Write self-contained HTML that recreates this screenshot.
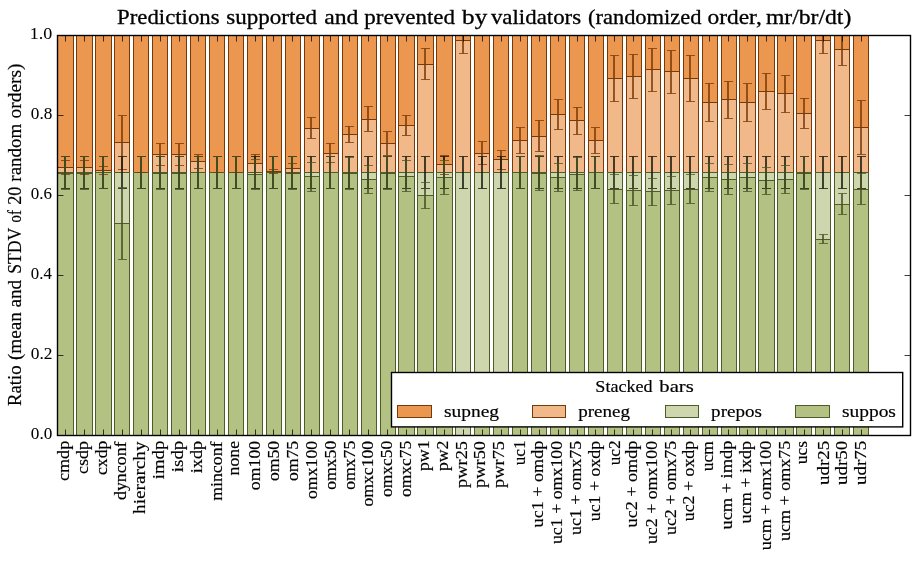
<!DOCTYPE html>
<html lang="en"><head><meta charset="utf-8"><title>Predictions supported and prevented by validators</title>
<style>html,body{margin:0;padding:0;background:#fff;overflow:hidden;}svg{display:block;}text{font-family:"Liberation Serif","DejaVu Serif",serif;fill:#000;stroke:#000;stroke-width:0.18px;}.t{stroke-width:0.3px}.n{stroke-width:0.05px}</style></head><body>
<svg width="919" height="562" viewBox="0 0 919 562">
<rect width="919" height="562" fill="#fff"/>
<defs><clipPath id="ax"><rect x="57.5" y="35.5" width="853" height="400"/></clipPath></defs>
<g clip-path="url(#ax)">
<rect x="57.5" y="35.5" width="16" height="132" fill="#EC9750" stroke="#753A0A" stroke-width="1.0"/>
<rect x="76.5" y="35.5" width="16" height="132" fill="#EC9750" stroke="#753A0A" stroke-width="1.0"/>
<rect x="95.5" y="35.5" width="16" height="135" fill="#EC9750" stroke="#753A0A" stroke-width="1.0"/>
<rect x="114.5" y="35.5" width="15" height="107" fill="#EC9750" stroke="#753A0A" stroke-width="1.0"/>
<rect x="133.5" y="35.5" width="15" height="137" fill="#EC9750" stroke="#753A0A" stroke-width="1.0"/>
<rect x="152.5" y="35.5" width="15" height="119" fill="#EC9750" stroke="#753A0A" stroke-width="1.0"/>
<rect x="171.5" y="35.5" width="15" height="119" fill="#EC9750" stroke="#753A0A" stroke-width="1.0"/>
<rect x="190.5" y="35.5" width="15" height="126" fill="#EC9750" stroke="#753A0A" stroke-width="1.0"/>
<rect x="209.5" y="35.5" width="15" height="137" fill="#EC9750" stroke="#753A0A" stroke-width="1.0"/>
<rect x="228.5" y="35.5" width="15" height="137" fill="#EC9750" stroke="#753A0A" stroke-width="1.0"/>
<rect x="247.5" y="35.5" width="15" height="128" fill="#EC9750" stroke="#753A0A" stroke-width="1.0"/>
<rect x="266.5" y="35.5" width="15" height="136" fill="#EC9750" stroke="#753A0A" stroke-width="1.0"/>
<rect x="285.5" y="35.5" width="15" height="133" fill="#EC9750" stroke="#753A0A" stroke-width="1.0"/>
<rect x="304.5" y="35.5" width="15" height="93" fill="#EC9750" stroke="#753A0A" stroke-width="1.0"/>
<rect x="323.5" y="35.5" width="15" height="118" fill="#EC9750" stroke="#753A0A" stroke-width="1.0"/>
<rect x="342.5" y="35.5" width="15" height="99" fill="#EC9750" stroke="#753A0A" stroke-width="1.0"/>
<rect x="361.5" y="35.5" width="15" height="84" fill="#EC9750" stroke="#753A0A" stroke-width="1.0"/>
<rect x="380.5" y="35.5" width="15" height="108" fill="#EC9750" stroke="#753A0A" stroke-width="1.0"/>
<rect x="398.5" y="35.5" width="16" height="90" fill="#EC9750" stroke="#753A0A" stroke-width="1.0"/>
<rect x="417.5" y="35.5" width="16" height="29" fill="#EC9750" stroke="#753A0A" stroke-width="1.0"/>
<rect x="436.5" y="35.5" width="16" height="129" fill="#EC9750" stroke="#753A0A" stroke-width="1.0"/>
<rect x="455.5" y="35.5" width="15" height="5" fill="#EC9750" stroke="#753A0A" stroke-width="1.0"/>
<rect x="474.5" y="35.5" width="15" height="118" fill="#EC9750" stroke="#753A0A" stroke-width="1.0"/>
<rect x="493.5" y="35.5" width="15" height="124" fill="#EC9750" stroke="#753A0A" stroke-width="1.0"/>
<rect x="512.5" y="35.5" width="15" height="105" fill="#EC9750" stroke="#753A0A" stroke-width="1.0"/>
<rect x="531.5" y="35.5" width="15" height="101" fill="#EC9750" stroke="#753A0A" stroke-width="1.0"/>
<rect x="550.5" y="35.5" width="15" height="79" fill="#EC9750" stroke="#753A0A" stroke-width="1.0"/>
<rect x="569.5" y="35.5" width="15" height="85" fill="#EC9750" stroke="#753A0A" stroke-width="1.0"/>
<rect x="588.5" y="35.5" width="15" height="105" fill="#EC9750" stroke="#753A0A" stroke-width="1.0"/>
<rect x="607.5" y="35.5" width="15" height="43" fill="#EC9750" stroke="#753A0A" stroke-width="1.0"/>
<rect x="626.5" y="35.5" width="15" height="41" fill="#EC9750" stroke="#753A0A" stroke-width="1.0"/>
<rect x="645.5" y="35.5" width="15" height="34" fill="#EC9750" stroke="#753A0A" stroke-width="1.0"/>
<rect x="664.5" y="35.5" width="15" height="36" fill="#EC9750" stroke="#753A0A" stroke-width="1.0"/>
<rect x="683.5" y="35.5" width="15" height="43" fill="#EC9750" stroke="#753A0A" stroke-width="1.0"/>
<rect x="702.5" y="35.5" width="15" height="67" fill="#EC9750" stroke="#753A0A" stroke-width="1.0"/>
<rect x="721.5" y="35.5" width="15" height="64" fill="#EC9750" stroke="#753A0A" stroke-width="1.0"/>
<rect x="739.5" y="35.5" width="16" height="67" fill="#EC9750" stroke="#753A0A" stroke-width="1.0"/>
<rect x="758.5" y="35.5" width="16" height="56" fill="#EC9750" stroke="#753A0A" stroke-width="1.0"/>
<rect x="777.5" y="35.5" width="16" height="58" fill="#EC9750" stroke="#753A0A" stroke-width="1.0"/>
<rect x="796.5" y="35.5" width="15" height="78" fill="#EC9750" stroke="#753A0A" stroke-width="1.0"/>
<rect x="815.5" y="35.5" width="15" height="5" fill="#EC9750" stroke="#753A0A" stroke-width="1.0"/>
<rect x="834.5" y="35.5" width="15" height="14" fill="#EC9750" stroke="#753A0A" stroke-width="1.0"/>
<rect x="853.5" y="35.5" width="15" height="92" fill="#EC9750" stroke="#753A0A" stroke-width="1.0"/>
<rect x="57.5" y="167.5" width="16" height="5" fill="#F1B989" stroke="#753A0A" stroke-width="1.0"/>
<rect x="76.5" y="167.5" width="16" height="5" fill="#F1B989" stroke="#753A0A" stroke-width="1.0"/>
<rect x="95.5" y="170.5" width="16" height="2" fill="#F1B989" stroke="#753A0A" stroke-width="1.0"/>
<rect x="114.5" y="142.5" width="15" height="30" fill="#F1B989" stroke="#753A0A" stroke-width="1.0"/>
<rect x="152.5" y="154.5" width="15" height="18" fill="#F1B989" stroke="#753A0A" stroke-width="1.0"/>
<rect x="171.5" y="154.5" width="15" height="18" fill="#F1B989" stroke="#753A0A" stroke-width="1.0"/>
<rect x="190.5" y="161.5" width="15" height="11" fill="#F1B989" stroke="#753A0A" stroke-width="1.0"/>
<rect x="247.5" y="163.5" width="15" height="9" fill="#F1B989" stroke="#753A0A" stroke-width="1.0"/>
<rect x="266.5" y="171.5" width="15" height="1" fill="#F1B989" stroke="#753A0A" stroke-width="1.0"/>
<rect x="285.5" y="168.5" width="15" height="4" fill="#F1B989" stroke="#753A0A" stroke-width="1.0"/>
<rect x="304.5" y="128.5" width="15" height="44" fill="#F1B989" stroke="#753A0A" stroke-width="1.0"/>
<rect x="323.5" y="153.5" width="15" height="19" fill="#F1B989" stroke="#753A0A" stroke-width="1.0"/>
<rect x="342.5" y="134.5" width="15" height="38" fill="#F1B989" stroke="#753A0A" stroke-width="1.0"/>
<rect x="361.5" y="119.5" width="15" height="53" fill="#F1B989" stroke="#753A0A" stroke-width="1.0"/>
<rect x="380.5" y="143.5" width="15" height="29" fill="#F1B989" stroke="#753A0A" stroke-width="1.0"/>
<rect x="398.5" y="125.5" width="16" height="47" fill="#F1B989" stroke="#753A0A" stroke-width="1.0"/>
<rect x="417.5" y="64.5" width="16" height="108" fill="#F1B989" stroke="#753A0A" stroke-width="1.0"/>
<rect x="436.5" y="164.5" width="16" height="8" fill="#F1B989" stroke="#753A0A" stroke-width="1.0"/>
<rect x="455.5" y="40.5" width="15" height="132" fill="#F1B989" stroke="#753A0A" stroke-width="1.0"/>
<rect x="474.5" y="153.5" width="15" height="19" fill="#F1B989" stroke="#753A0A" stroke-width="1.0"/>
<rect x="493.5" y="159.5" width="15" height="13" fill="#F1B989" stroke="#753A0A" stroke-width="1.0"/>
<rect x="512.5" y="140.5" width="15" height="32" fill="#F1B989" stroke="#753A0A" stroke-width="1.0"/>
<rect x="531.5" y="136.5" width="15" height="36" fill="#F1B989" stroke="#753A0A" stroke-width="1.0"/>
<rect x="550.5" y="114.5" width="15" height="58" fill="#F1B989" stroke="#753A0A" stroke-width="1.0"/>
<rect x="569.5" y="120.5" width="15" height="52" fill="#F1B989" stroke="#753A0A" stroke-width="1.0"/>
<rect x="588.5" y="140.5" width="15" height="32" fill="#F1B989" stroke="#753A0A" stroke-width="1.0"/>
<rect x="607.5" y="78.5" width="15" height="94" fill="#F1B989" stroke="#753A0A" stroke-width="1.0"/>
<rect x="626.5" y="76.5" width="15" height="96" fill="#F1B989" stroke="#753A0A" stroke-width="1.0"/>
<rect x="645.5" y="69.5" width="15" height="103" fill="#F1B989" stroke="#753A0A" stroke-width="1.0"/>
<rect x="664.5" y="71.5" width="15" height="101" fill="#F1B989" stroke="#753A0A" stroke-width="1.0"/>
<rect x="683.5" y="78.5" width="15" height="94" fill="#F1B989" stroke="#753A0A" stroke-width="1.0"/>
<rect x="702.5" y="102.5" width="15" height="70" fill="#F1B989" stroke="#753A0A" stroke-width="1.0"/>
<rect x="721.5" y="99.5" width="15" height="73" fill="#F1B989" stroke="#753A0A" stroke-width="1.0"/>
<rect x="739.5" y="102.5" width="16" height="70" fill="#F1B989" stroke="#753A0A" stroke-width="1.0"/>
<rect x="758.5" y="91.5" width="16" height="81" fill="#F1B989" stroke="#753A0A" stroke-width="1.0"/>
<rect x="777.5" y="93.5" width="16" height="79" fill="#F1B989" stroke="#753A0A" stroke-width="1.0"/>
<rect x="796.5" y="113.5" width="15" height="59" fill="#F1B989" stroke="#753A0A" stroke-width="1.0"/>
<rect x="815.5" y="40.5" width="15" height="132" fill="#F1B989" stroke="#753A0A" stroke-width="1.0"/>
<rect x="834.5" y="49.5" width="15" height="123" fill="#F1B989" stroke="#753A0A" stroke-width="1.0"/>
<rect x="853.5" y="127.5" width="15" height="45" fill="#F1B989" stroke="#753A0A" stroke-width="1.0"/>
<rect x="57.5" y="172.5" width="16" height="1" fill="#CED6AE" stroke="#4F5B28" stroke-width="1.0"/>
<rect x="76.5" y="172.5" width="16" height="1" fill="#CED6AE" stroke="#4F5B28" stroke-width="1.0"/>
<rect x="114.5" y="172.5" width="15" height="51" fill="#CED6AE" stroke="#4F5B28" stroke-width="1.0"/>
<rect x="152.5" y="172.5" width="15" height="1" fill="#CED6AE" stroke="#4F5B28" stroke-width="1.0"/>
<rect x="171.5" y="172.5" width="15" height="1" fill="#CED6AE" stroke="#4F5B28" stroke-width="1.0"/>
<rect x="247.5" y="172.5" width="15" height="2" fill="#CED6AE" stroke="#4F5B28" stroke-width="1.0"/>
<rect x="285.5" y="172.5" width="15" height="1" fill="#CED6AE" stroke="#4F5B28" stroke-width="1.0"/>
<rect x="304.5" y="172.5" width="15" height="4" fill="#CED6AE" stroke="#4F5B28" stroke-width="1.0"/>
<rect x="342.5" y="172.5" width="15" height="1" fill="#CED6AE" stroke="#4F5B28" stroke-width="1.0"/>
<rect x="361.5" y="172.5" width="15" height="7" fill="#CED6AE" stroke="#4F5B28" stroke-width="1.0"/>
<rect x="380.5" y="172.5" width="15" height="1" fill="#CED6AE" stroke="#4F5B28" stroke-width="1.0"/>
<rect x="398.5" y="172.5" width="16" height="4" fill="#CED6AE" stroke="#4F5B28" stroke-width="1.0"/>
<rect x="417.5" y="172.5" width="16" height="23" fill="#CED6AE" stroke="#4F5B28" stroke-width="1.0"/>
<rect x="436.5" y="172.5" width="16" height="5" fill="#CED6AE" stroke="#4F5B28" stroke-width="1.0"/>
<rect x="455.5" y="172.5" width="15" height="263" fill="#CED6AE" stroke="#4F5B28" stroke-width="1.0"/>
<rect x="474.5" y="172.5" width="15" height="228" fill="#CED6AE" stroke="#4F5B28" stroke-width="1.0"/>
<rect x="493.5" y="172.5" width="15" height="228" fill="#CED6AE" stroke="#4F5B28" stroke-width="1.0"/>
<rect x="531.5" y="172.5" width="15" height="1" fill="#CED6AE" stroke="#4F5B28" stroke-width="1.0"/>
<rect x="550.5" y="172.5" width="15" height="5" fill="#CED6AE" stroke="#4F5B28" stroke-width="1.0"/>
<rect x="569.5" y="172.5" width="15" height="2" fill="#CED6AE" stroke="#4F5B28" stroke-width="1.0"/>
<rect x="607.5" y="172.5" width="15" height="17" fill="#CED6AE" stroke="#4F5B28" stroke-width="1.0"/>
<rect x="626.5" y="172.5" width="15" height="18" fill="#CED6AE" stroke="#4F5B28" stroke-width="1.0"/>
<rect x="645.5" y="172.5" width="15" height="19" fill="#CED6AE" stroke="#4F5B28" stroke-width="1.0"/>
<rect x="664.5" y="172.5" width="15" height="18" fill="#CED6AE" stroke="#4F5B28" stroke-width="1.0"/>
<rect x="683.5" y="172.5" width="15" height="17" fill="#CED6AE" stroke="#4F5B28" stroke-width="1.0"/>
<rect x="702.5" y="172.5" width="15" height="5" fill="#CED6AE" stroke="#4F5B28" stroke-width="1.0"/>
<rect x="721.5" y="172.5" width="15" height="7" fill="#CED6AE" stroke="#4F5B28" stroke-width="1.0"/>
<rect x="739.5" y="172.5" width="16" height="5" fill="#CED6AE" stroke="#4F5B28" stroke-width="1.0"/>
<rect x="758.5" y="172.5" width="16" height="8" fill="#CED6AE" stroke="#4F5B28" stroke-width="1.0"/>
<rect x="777.5" y="172.5" width="16" height="7" fill="#CED6AE" stroke="#4F5B28" stroke-width="1.0"/>
<rect x="796.5" y="172.5" width="15" height="1" fill="#CED6AE" stroke="#4F5B28" stroke-width="1.0"/>
<rect x="815.5" y="172.5" width="15" height="67" fill="#CED6AE" stroke="#4F5B28" stroke-width="1.0"/>
<rect x="834.5" y="172.5" width="15" height="32" fill="#CED6AE" stroke="#4F5B28" stroke-width="1.0"/>
<rect x="853.5" y="172.5" width="15" height="17" fill="#CED6AE" stroke="#4F5B28" stroke-width="1.0"/>
<rect x="57.5" y="173.5" width="16" height="262" fill="#B3C282" stroke="#4F5B28" stroke-width="1.0"/>
<rect x="76.5" y="173.5" width="16" height="262" fill="#B3C282" stroke="#4F5B28" stroke-width="1.0"/>
<rect x="95.5" y="172.5" width="16" height="263" fill="#B3C282" stroke="#4F5B28" stroke-width="1.0"/>
<rect x="114.5" y="223.5" width="15" height="212" fill="#B3C282" stroke="#4F5B28" stroke-width="1.0"/>
<rect x="133.5" y="172.5" width="15" height="263" fill="#B3C282" stroke="#4F5B28" stroke-width="1.0"/>
<rect x="152.5" y="173.5" width="15" height="262" fill="#B3C282" stroke="#4F5B28" stroke-width="1.0"/>
<rect x="171.5" y="173.5" width="15" height="262" fill="#B3C282" stroke="#4F5B28" stroke-width="1.0"/>
<rect x="190.5" y="172.5" width="15" height="263" fill="#B3C282" stroke="#4F5B28" stroke-width="1.0"/>
<rect x="209.5" y="172.5" width="15" height="263" fill="#B3C282" stroke="#4F5B28" stroke-width="1.0"/>
<rect x="228.5" y="172.5" width="15" height="263" fill="#B3C282" stroke="#4F5B28" stroke-width="1.0"/>
<rect x="247.5" y="174.5" width="15" height="261" fill="#B3C282" stroke="#4F5B28" stroke-width="1.0"/>
<rect x="266.5" y="172.5" width="15" height="263" fill="#B3C282" stroke="#4F5B28" stroke-width="1.0"/>
<rect x="285.5" y="173.5" width="15" height="262" fill="#B3C282" stroke="#4F5B28" stroke-width="1.0"/>
<rect x="304.5" y="176.5" width="15" height="259" fill="#B3C282" stroke="#4F5B28" stroke-width="1.0"/>
<rect x="323.5" y="172.5" width="15" height="263" fill="#B3C282" stroke="#4F5B28" stroke-width="1.0"/>
<rect x="342.5" y="173.5" width="15" height="262" fill="#B3C282" stroke="#4F5B28" stroke-width="1.0"/>
<rect x="361.5" y="179.5" width="15" height="256" fill="#B3C282" stroke="#4F5B28" stroke-width="1.0"/>
<rect x="380.5" y="173.5" width="15" height="262" fill="#B3C282" stroke="#4F5B28" stroke-width="1.0"/>
<rect x="398.5" y="176.5" width="16" height="259" fill="#B3C282" stroke="#4F5B28" stroke-width="1.0"/>
<rect x="417.5" y="195.5" width="16" height="240" fill="#B3C282" stroke="#4F5B28" stroke-width="1.0"/>
<rect x="436.5" y="177.5" width="16" height="258" fill="#B3C282" stroke="#4F5B28" stroke-width="1.0"/>
<rect x="474.5" y="400.5" width="15" height="35" fill="#B3C282" stroke="#4F5B28" stroke-width="1.0"/>
<rect x="493.5" y="400.5" width="15" height="35" fill="#B3C282" stroke="#4F5B28" stroke-width="1.0"/>
<rect x="512.5" y="172.5" width="15" height="263" fill="#B3C282" stroke="#4F5B28" stroke-width="1.0"/>
<rect x="531.5" y="173.5" width="15" height="262" fill="#B3C282" stroke="#4F5B28" stroke-width="1.0"/>
<rect x="550.5" y="177.5" width="15" height="258" fill="#B3C282" stroke="#4F5B28" stroke-width="1.0"/>
<rect x="569.5" y="174.5" width="15" height="261" fill="#B3C282" stroke="#4F5B28" stroke-width="1.0"/>
<rect x="588.5" y="172.5" width="15" height="263" fill="#B3C282" stroke="#4F5B28" stroke-width="1.0"/>
<rect x="607.5" y="189.5" width="15" height="246" fill="#B3C282" stroke="#4F5B28" stroke-width="1.0"/>
<rect x="626.5" y="190.5" width="15" height="245" fill="#B3C282" stroke="#4F5B28" stroke-width="1.0"/>
<rect x="645.5" y="191.5" width="15" height="244" fill="#B3C282" stroke="#4F5B28" stroke-width="1.0"/>
<rect x="664.5" y="190.5" width="15" height="245" fill="#B3C282" stroke="#4F5B28" stroke-width="1.0"/>
<rect x="683.5" y="189.5" width="15" height="246" fill="#B3C282" stroke="#4F5B28" stroke-width="1.0"/>
<rect x="702.5" y="177.5" width="15" height="258" fill="#B3C282" stroke="#4F5B28" stroke-width="1.0"/>
<rect x="721.5" y="179.5" width="15" height="256" fill="#B3C282" stroke="#4F5B28" stroke-width="1.0"/>
<rect x="739.5" y="177.5" width="16" height="258" fill="#B3C282" stroke="#4F5B28" stroke-width="1.0"/>
<rect x="758.5" y="180.5" width="16" height="255" fill="#B3C282" stroke="#4F5B28" stroke-width="1.0"/>
<rect x="777.5" y="179.5" width="16" height="256" fill="#B3C282" stroke="#4F5B28" stroke-width="1.0"/>
<rect x="796.5" y="173.5" width="15" height="262" fill="#B3C282" stroke="#4F5B28" stroke-width="1.0"/>
<rect x="815.5" y="239.5" width="15" height="196" fill="#B3C282" stroke="#4F5B28" stroke-width="1.0"/>
<rect x="834.5" y="204.5" width="15" height="231" fill="#B3C282" stroke="#4F5B28" stroke-width="1.0"/>
<rect x="853.5" y="189.5" width="15" height="246" fill="#B3C282" stroke="#4F5B28" stroke-width="1.0"/>
<path d="M65 160.5V174.5" stroke="#7C3C0A" stroke-width="1.6" fill="none" stroke-opacity="1.0"/>
<path d="M61 160.5H70M61 174.5H70" stroke="#7C3C0A" stroke-width="1" fill="none" stroke-opacity="0.8"/>
<path d="M84 160.5V174.5" stroke="#7C3C0A" stroke-width="1.6" fill="none" stroke-opacity="1.0"/>
<path d="M80 160.5H89M80 174.5H89" stroke="#7C3C0A" stroke-width="1" fill="none" stroke-opacity="0.8"/>
<path d="M103 166.5V174.5" stroke="#7C3C0A" stroke-width="1.6" fill="none" stroke-opacity="1.0"/>
<path d="M99 166.5H108M99 174.5H108" stroke="#7C3C0A" stroke-width="1" fill="none" stroke-opacity="0.8"/>
<path d="M122 115.5V169.5" stroke="#7C3C0A" stroke-width="1.6" fill="none" stroke-opacity="1.0"/>
<path d="M118 115.5H127M118 169.5H127" stroke="#7C3C0A" stroke-width="1" fill="none" stroke-opacity="0.8"/>
<path d="M141 172.5V172.5" stroke="#7C3C0A" stroke-width="1.6" fill="none" stroke-opacity="1.0"/>
<path d="M137 172.5H146M137 172.5H146" stroke="#7C3C0A" stroke-width="1" fill="none" stroke-opacity="0.8"/>
<path d="M160 143.5V165.5" stroke="#7C3C0A" stroke-width="1.6" fill="none" stroke-opacity="1.0"/>
<path d="M156 143.5H165M156 165.5H165" stroke="#7C3C0A" stroke-width="1" fill="none" stroke-opacity="0.8"/>
<path d="M179 143.5V165.5" stroke="#7C3C0A" stroke-width="1.6" fill="none" stroke-opacity="1.0"/>
<path d="M175 143.5H184M175 165.5H184" stroke="#7C3C0A" stroke-width="1" fill="none" stroke-opacity="0.8"/>
<path d="M198 154.5V168.5" stroke="#7C3C0A" stroke-width="1.6" fill="none" stroke-opacity="1.0"/>
<path d="M194 154.5H203M194 168.5H203" stroke="#7C3C0A" stroke-width="1" fill="none" stroke-opacity="0.8"/>
<path d="M217 172.5V172.5" stroke="#7C3C0A" stroke-width="1.6" fill="none" stroke-opacity="1.0"/>
<path d="M213 172.5H222M213 172.5H222" stroke="#7C3C0A" stroke-width="1" fill="none" stroke-opacity="0.8"/>
<path d="M236 172.5V172.5" stroke="#7C3C0A" stroke-width="1.6" fill="none" stroke-opacity="1.0"/>
<path d="M232 172.5H241M232 172.5H241" stroke="#7C3C0A" stroke-width="1" fill="none" stroke-opacity="0.8"/>
<path d="M255 154.5V172.5" stroke="#7C3C0A" stroke-width="1.6" fill="none" stroke-opacity="1.0"/>
<path d="M251 154.5H260M251 172.5H260" stroke="#7C3C0A" stroke-width="1" fill="none" stroke-opacity="0.8"/>
<path d="M273 169.5V173.5" stroke="#7C3C0A" stroke-width="1.6" fill="none" stroke-opacity="1.0"/>
<path d="M269 169.5H278M269 173.5H278" stroke="#7C3C0A" stroke-width="1" fill="none" stroke-opacity="0.8"/>
<path d="M292 163.5V173.5" stroke="#7C3C0A" stroke-width="1.6" fill="none" stroke-opacity="1.0"/>
<path d="M288 163.5H297M288 173.5H297" stroke="#7C3C0A" stroke-width="1" fill="none" stroke-opacity="0.8"/>
<path d="M311 117.5V138.5" stroke="#7C3C0A" stroke-width="1.6" fill="none" stroke-opacity="1.0"/>
<path d="M307 117.5H316M307 138.5H316" stroke="#7C3C0A" stroke-width="1" fill="none" stroke-opacity="0.8"/>
<path d="M330 143.5V162.5" stroke="#7C3C0A" stroke-width="1.6" fill="none" stroke-opacity="1.0"/>
<path d="M326 143.5H335M326 162.5H335" stroke="#7C3C0A" stroke-width="1" fill="none" stroke-opacity="0.8"/>
<path d="M349 126.5V142.5" stroke="#7C3C0A" stroke-width="1.6" fill="none" stroke-opacity="1.0"/>
<path d="M345 126.5H354M345 142.5H354" stroke="#7C3C0A" stroke-width="1" fill="none" stroke-opacity="0.8"/>
<path d="M368 106.5V131.5" stroke="#7C3C0A" stroke-width="1.6" fill="none" stroke-opacity="1.0"/>
<path d="M364 106.5H373M364 131.5H373" stroke="#7C3C0A" stroke-width="1" fill="none" stroke-opacity="0.8"/>
<path d="M387 131.5V155.5" stroke="#7C3C0A" stroke-width="1.6" fill="none" stroke-opacity="1.0"/>
<path d="M383 131.5H392M383 155.5H392" stroke="#7C3C0A" stroke-width="1" fill="none" stroke-opacity="0.8"/>
<path d="M406 115.5V135.5" stroke="#7C3C0A" stroke-width="1.6" fill="none" stroke-opacity="1.0"/>
<path d="M402 115.5H411M402 135.5H411" stroke="#7C3C0A" stroke-width="1" fill="none" stroke-opacity="0.8"/>
<path d="M425 48.5V79.5" stroke="#7C3C0A" stroke-width="1.6" fill="none" stroke-opacity="1.0"/>
<path d="M421 48.5H430M421 79.5H430" stroke="#7C3C0A" stroke-width="1" fill="none" stroke-opacity="0.8"/>
<path d="M444 155.5V174.5" stroke="#7C3C0A" stroke-width="1.6" fill="none" stroke-opacity="1.0"/>
<path d="M440 155.5H449M440 174.5H449" stroke="#7C3C0A" stroke-width="1" fill="none" stroke-opacity="0.8"/>
<path d="M463 27.5V53.5" stroke="#7C3C0A" stroke-width="1.6" fill="none" stroke-opacity="1.0"/>
<path d="M459 27.5H468M459 53.5H468" stroke="#7C3C0A" stroke-width="1" fill="none" stroke-opacity="0.8"/>
<path d="M482 141.5V164.5" stroke="#7C3C0A" stroke-width="1.6" fill="none" stroke-opacity="1.0"/>
<path d="M478 141.5H487M478 164.5H487" stroke="#7C3C0A" stroke-width="1" fill="none" stroke-opacity="0.8"/>
<path d="M501 150.5V169.5" stroke="#7C3C0A" stroke-width="1.6" fill="none" stroke-opacity="1.0"/>
<path d="M497 150.5H506M497 169.5H506" stroke="#7C3C0A" stroke-width="1" fill="none" stroke-opacity="0.8"/>
<path d="M520 127.5V153.5" stroke="#7C3C0A" stroke-width="1.6" fill="none" stroke-opacity="1.0"/>
<path d="M516 127.5H525M516 153.5H525" stroke="#7C3C0A" stroke-width="1" fill="none" stroke-opacity="0.8"/>
<path d="M539 120.5V151.5" stroke="#7C3C0A" stroke-width="1.6" fill="none" stroke-opacity="1.0"/>
<path d="M535 120.5H544M535 151.5H544" stroke="#7C3C0A" stroke-width="1" fill="none" stroke-opacity="0.8"/>
<path d="M558 99.5V129.5" stroke="#7C3C0A" stroke-width="1.6" fill="none" stroke-opacity="1.0"/>
<path d="M554 99.5H563M554 129.5H563" stroke="#7C3C0A" stroke-width="1" fill="none" stroke-opacity="0.8"/>
<path d="M577 107.5V134.5" stroke="#7C3C0A" stroke-width="1.6" fill="none" stroke-opacity="1.0"/>
<path d="M573 107.5H582M573 134.5H582" stroke="#7C3C0A" stroke-width="1" fill="none" stroke-opacity="0.8"/>
<path d="M595 127.5V153.5" stroke="#7C3C0A" stroke-width="1.6" fill="none" stroke-opacity="1.0"/>
<path d="M591 127.5H600M591 153.5H600" stroke="#7C3C0A" stroke-width="1" fill="none" stroke-opacity="0.8"/>
<path d="M614 55.5V101.5" stroke="#7C3C0A" stroke-width="1.6" fill="none" stroke-opacity="1.0"/>
<path d="M610 55.5H619M610 101.5H619" stroke="#7C3C0A" stroke-width="1" fill="none" stroke-opacity="0.8"/>
<path d="M633 54.5V98.5" stroke="#7C3C0A" stroke-width="1.6" fill="none" stroke-opacity="1.0"/>
<path d="M629 54.5H638M629 98.5H638" stroke="#7C3C0A" stroke-width="1" fill="none" stroke-opacity="0.8"/>
<path d="M652 48.5V91.5" stroke="#7C3C0A" stroke-width="1.6" fill="none" stroke-opacity="1.0"/>
<path d="M648 48.5H657M648 91.5H657" stroke="#7C3C0A" stroke-width="1" fill="none" stroke-opacity="0.8"/>
<path d="M671 50.5V93.5" stroke="#7C3C0A" stroke-width="1.6" fill="none" stroke-opacity="1.0"/>
<path d="M667 50.5H676M667 93.5H676" stroke="#7C3C0A" stroke-width="1" fill="none" stroke-opacity="0.8"/>
<path d="M690 55.5V101.5" stroke="#7C3C0A" stroke-width="1.6" fill="none" stroke-opacity="1.0"/>
<path d="M686 55.5H695M686 101.5H695" stroke="#7C3C0A" stroke-width="1" fill="none" stroke-opacity="0.8"/>
<path d="M709 83.5V121.5" stroke="#7C3C0A" stroke-width="1.6" fill="none" stroke-opacity="1.0"/>
<path d="M705 83.5H714M705 121.5H714" stroke="#7C3C0A" stroke-width="1" fill="none" stroke-opacity="0.8"/>
<path d="M728 81.5V118.5" stroke="#7C3C0A" stroke-width="1.6" fill="none" stroke-opacity="1.0"/>
<path d="M724 81.5H733M724 118.5H733" stroke="#7C3C0A" stroke-width="1" fill="none" stroke-opacity="0.8"/>
<path d="M747 83.5V121.5" stroke="#7C3C0A" stroke-width="1.6" fill="none" stroke-opacity="1.0"/>
<path d="M743 83.5H752M743 121.5H752" stroke="#7C3C0A" stroke-width="1" fill="none" stroke-opacity="0.8"/>
<path d="M766 73.5V109.5" stroke="#7C3C0A" stroke-width="1.6" fill="none" stroke-opacity="1.0"/>
<path d="M762 73.5H771M762 109.5H771" stroke="#7C3C0A" stroke-width="1" fill="none" stroke-opacity="0.8"/>
<path d="M785 75.5V112.5" stroke="#7C3C0A" stroke-width="1.6" fill="none" stroke-opacity="1.0"/>
<path d="M781 75.5H790M781 112.5H790" stroke="#7C3C0A" stroke-width="1" fill="none" stroke-opacity="0.8"/>
<path d="M804 98.5V128.5" stroke="#7C3C0A" stroke-width="1.6" fill="none" stroke-opacity="1.0"/>
<path d="M800 98.5H809M800 128.5H809" stroke="#7C3C0A" stroke-width="1" fill="none" stroke-opacity="0.8"/>
<path d="M823 27.5V53.5" stroke="#7C3C0A" stroke-width="1.6" fill="none" stroke-opacity="1.0"/>
<path d="M819 27.5H828M819 53.5H828" stroke="#7C3C0A" stroke-width="1" fill="none" stroke-opacity="0.8"/>
<path d="M842 33.5V65.5" stroke="#7C3C0A" stroke-width="1.6" fill="none" stroke-opacity="1.0"/>
<path d="M838 33.5H847M838 65.5H847" stroke="#7C3C0A" stroke-width="1" fill="none" stroke-opacity="0.8"/>
<path d="M861 100.5V154.5" stroke="#7C3C0A" stroke-width="1.6" fill="none" stroke-opacity="1.0"/>
<path d="M857 100.5H866M857 154.5H866" stroke="#7C3C0A" stroke-width="1" fill="none" stroke-opacity="0.8"/>
<path d="M65 156.5V188.5" stroke="#181C10" stroke-width="1.6" fill="none" stroke-opacity="1.0"/>
<path d="M61 156.5H70M61 188.5H70" stroke="#181C10" stroke-width="1" fill="none" stroke-opacity="0.8"/>
<path d="M84 156.5V188.5" stroke="#181C10" stroke-width="1.6" fill="none" stroke-opacity="1.0"/>
<path d="M80 156.5H89M80 188.5H89" stroke="#181C10" stroke-width="1" fill="none" stroke-opacity="0.8"/>
<path d="M103 156.5V188.5" stroke="#181C10" stroke-width="1.6" fill="none" stroke-opacity="1.0"/>
<path d="M99 156.5H108M99 188.5H108" stroke="#181C10" stroke-width="1" fill="none" stroke-opacity="0.8"/>
<path d="M122 156.5V188.5" stroke="#181C10" stroke-width="1.6" fill="none" stroke-opacity="1.0"/>
<path d="M118 156.5H127M118 188.5H127" stroke="#181C10" stroke-width="1" fill="none" stroke-opacity="0.8"/>
<path d="M141 156.5V188.5" stroke="#181C10" stroke-width="1.6" fill="none" stroke-opacity="1.0"/>
<path d="M137 156.5H146M137 188.5H146" stroke="#181C10" stroke-width="1" fill="none" stroke-opacity="0.8"/>
<path d="M160 156.5V188.5" stroke="#181C10" stroke-width="1.6" fill="none" stroke-opacity="1.0"/>
<path d="M156 156.5H165M156 188.5H165" stroke="#181C10" stroke-width="1" fill="none" stroke-opacity="0.8"/>
<path d="M179 156.5V188.5" stroke="#181C10" stroke-width="1.6" fill="none" stroke-opacity="1.0"/>
<path d="M175 156.5H184M175 188.5H184" stroke="#181C10" stroke-width="1" fill="none" stroke-opacity="0.8"/>
<path d="M198 156.5V188.5" stroke="#181C10" stroke-width="1.6" fill="none" stroke-opacity="1.0"/>
<path d="M194 156.5H203M194 188.5H203" stroke="#181C10" stroke-width="1" fill="none" stroke-opacity="0.8"/>
<path d="M217 156.5V188.5" stroke="#181C10" stroke-width="1.6" fill="none" stroke-opacity="1.0"/>
<path d="M213 156.5H222M213 188.5H222" stroke="#181C10" stroke-width="1" fill="none" stroke-opacity="0.8"/>
<path d="M236 156.5V188.5" stroke="#181C10" stroke-width="1.6" fill="none" stroke-opacity="1.0"/>
<path d="M232 156.5H241M232 188.5H241" stroke="#181C10" stroke-width="1" fill="none" stroke-opacity="0.8"/>
<path d="M255 156.5V188.5" stroke="#181C10" stroke-width="1.6" fill="none" stroke-opacity="1.0"/>
<path d="M251 156.5H260M251 188.5H260" stroke="#181C10" stroke-width="1" fill="none" stroke-opacity="0.8"/>
<path d="M273 156.5V188.5" stroke="#181C10" stroke-width="1.6" fill="none" stroke-opacity="1.0"/>
<path d="M269 156.5H278M269 188.5H278" stroke="#181C10" stroke-width="1" fill="none" stroke-opacity="0.8"/>
<path d="M292 156.5V188.5" stroke="#181C10" stroke-width="1.6" fill="none" stroke-opacity="1.0"/>
<path d="M288 156.5H297M288 188.5H297" stroke="#181C10" stroke-width="1" fill="none" stroke-opacity="0.8"/>
<path d="M311 156.5V188.5" stroke="#181C10" stroke-width="1.6" fill="none" stroke-opacity="1.0"/>
<path d="M307 156.5H316M307 188.5H316" stroke="#181C10" stroke-width="1" fill="none" stroke-opacity="0.8"/>
<path d="M330 156.5V188.5" stroke="#181C10" stroke-width="1.6" fill="none" stroke-opacity="1.0"/>
<path d="M326 156.5H335M326 188.5H335" stroke="#181C10" stroke-width="1" fill="none" stroke-opacity="0.8"/>
<path d="M349 156.5V188.5" stroke="#181C10" stroke-width="1.6" fill="none" stroke-opacity="1.0"/>
<path d="M345 156.5H354M345 188.5H354" stroke="#181C10" stroke-width="1" fill="none" stroke-opacity="0.8"/>
<path d="M368 156.5V188.5" stroke="#181C10" stroke-width="1.6" fill="none" stroke-opacity="1.0"/>
<path d="M364 156.5H373M364 188.5H373" stroke="#181C10" stroke-width="1" fill="none" stroke-opacity="0.8"/>
<path d="M387 156.5V188.5" stroke="#181C10" stroke-width="1.6" fill="none" stroke-opacity="1.0"/>
<path d="M383 156.5H392M383 188.5H392" stroke="#181C10" stroke-width="1" fill="none" stroke-opacity="0.8"/>
<path d="M406 156.5V188.5" stroke="#181C10" stroke-width="1.6" fill="none" stroke-opacity="1.0"/>
<path d="M402 156.5H411M402 188.5H411" stroke="#181C10" stroke-width="1" fill="none" stroke-opacity="0.8"/>
<path d="M425 156.5V188.5" stroke="#181C10" stroke-width="1.6" fill="none" stroke-opacity="1.0"/>
<path d="M421 156.5H430M421 188.5H430" stroke="#181C10" stroke-width="1" fill="none" stroke-opacity="0.8"/>
<path d="M444 156.5V188.5" stroke="#181C10" stroke-width="1.6" fill="none" stroke-opacity="1.0"/>
<path d="M440 156.5H449M440 188.5H449" stroke="#181C10" stroke-width="1" fill="none" stroke-opacity="0.8"/>
<path d="M463 156.5V188.5" stroke="#181C10" stroke-width="1.6" fill="none" stroke-opacity="1.0"/>
<path d="M459 156.5H468M459 188.5H468" stroke="#181C10" stroke-width="1" fill="none" stroke-opacity="0.8"/>
<path d="M482 156.5V188.5" stroke="#181C10" stroke-width="1.6" fill="none" stroke-opacity="1.0"/>
<path d="M478 156.5H487M478 188.5H487" stroke="#181C10" stroke-width="1" fill="none" stroke-opacity="0.8"/>
<path d="M501 156.5V188.5" stroke="#181C10" stroke-width="1.6" fill="none" stroke-opacity="1.0"/>
<path d="M497 156.5H506M497 188.5H506" stroke="#181C10" stroke-width="1" fill="none" stroke-opacity="0.8"/>
<path d="M520 156.5V188.5" stroke="#181C10" stroke-width="1.6" fill="none" stroke-opacity="1.0"/>
<path d="M516 156.5H525M516 188.5H525" stroke="#181C10" stroke-width="1" fill="none" stroke-opacity="0.8"/>
<path d="M539 156.5V188.5" stroke="#181C10" stroke-width="1.6" fill="none" stroke-opacity="1.0"/>
<path d="M535 156.5H544M535 188.5H544" stroke="#181C10" stroke-width="1" fill="none" stroke-opacity="0.8"/>
<path d="M558 156.5V188.5" stroke="#181C10" stroke-width="1.6" fill="none" stroke-opacity="1.0"/>
<path d="M554 156.5H563M554 188.5H563" stroke="#181C10" stroke-width="1" fill="none" stroke-opacity="0.8"/>
<path d="M577 156.5V188.5" stroke="#181C10" stroke-width="1.6" fill="none" stroke-opacity="1.0"/>
<path d="M573 156.5H582M573 188.5H582" stroke="#181C10" stroke-width="1" fill="none" stroke-opacity="0.8"/>
<path d="M595 156.5V188.5" stroke="#181C10" stroke-width="1.6" fill="none" stroke-opacity="1.0"/>
<path d="M591 156.5H600M591 188.5H600" stroke="#181C10" stroke-width="1" fill="none" stroke-opacity="0.8"/>
<path d="M614 156.5V188.5" stroke="#181C10" stroke-width="1.6" fill="none" stroke-opacity="1.0"/>
<path d="M610 156.5H619M610 188.5H619" stroke="#181C10" stroke-width="1" fill="none" stroke-opacity="0.8"/>
<path d="M633 156.5V188.5" stroke="#181C10" stroke-width="1.6" fill="none" stroke-opacity="1.0"/>
<path d="M629 156.5H638M629 188.5H638" stroke="#181C10" stroke-width="1" fill="none" stroke-opacity="0.8"/>
<path d="M652 156.5V188.5" stroke="#181C10" stroke-width="1.6" fill="none" stroke-opacity="1.0"/>
<path d="M648 156.5H657M648 188.5H657" stroke="#181C10" stroke-width="1" fill="none" stroke-opacity="0.8"/>
<path d="M671 156.5V188.5" stroke="#181C10" stroke-width="1.6" fill="none" stroke-opacity="1.0"/>
<path d="M667 156.5H676M667 188.5H676" stroke="#181C10" stroke-width="1" fill="none" stroke-opacity="0.8"/>
<path d="M690 156.5V188.5" stroke="#181C10" stroke-width="1.6" fill="none" stroke-opacity="1.0"/>
<path d="M686 156.5H695M686 188.5H695" stroke="#181C10" stroke-width="1" fill="none" stroke-opacity="0.8"/>
<path d="M709 156.5V188.5" stroke="#181C10" stroke-width="1.6" fill="none" stroke-opacity="1.0"/>
<path d="M705 156.5H714M705 188.5H714" stroke="#181C10" stroke-width="1" fill="none" stroke-opacity="0.8"/>
<path d="M728 156.5V188.5" stroke="#181C10" stroke-width="1.6" fill="none" stroke-opacity="1.0"/>
<path d="M724 156.5H733M724 188.5H733" stroke="#181C10" stroke-width="1" fill="none" stroke-opacity="0.8"/>
<path d="M747 156.5V188.5" stroke="#181C10" stroke-width="1.6" fill="none" stroke-opacity="1.0"/>
<path d="M743 156.5H752M743 188.5H752" stroke="#181C10" stroke-width="1" fill="none" stroke-opacity="0.8"/>
<path d="M766 156.5V188.5" stroke="#181C10" stroke-width="1.6" fill="none" stroke-opacity="1.0"/>
<path d="M762 156.5H771M762 188.5H771" stroke="#181C10" stroke-width="1" fill="none" stroke-opacity="0.8"/>
<path d="M785 156.5V188.5" stroke="#181C10" stroke-width="1.6" fill="none" stroke-opacity="1.0"/>
<path d="M781 156.5H790M781 188.5H790" stroke="#181C10" stroke-width="1" fill="none" stroke-opacity="0.8"/>
<path d="M804 156.5V188.5" stroke="#181C10" stroke-width="1.6" fill="none" stroke-opacity="1.0"/>
<path d="M800 156.5H809M800 188.5H809" stroke="#181C10" stroke-width="1" fill="none" stroke-opacity="0.8"/>
<path d="M823 156.5V188.5" stroke="#181C10" stroke-width="1.6" fill="none" stroke-opacity="1.0"/>
<path d="M819 156.5H828M819 188.5H828" stroke="#181C10" stroke-width="1" fill="none" stroke-opacity="0.8"/>
<path d="M842 156.5V188.5" stroke="#181C10" stroke-width="1.6" fill="none" stroke-opacity="1.0"/>
<path d="M838 156.5H847M838 188.5H847" stroke="#181C10" stroke-width="1" fill="none" stroke-opacity="0.8"/>
<path d="M861 156.5V188.5" stroke="#181C10" stroke-width="1.6" fill="none" stroke-opacity="1.0"/>
<path d="M857 156.5H866M857 188.5H866" stroke="#181C10" stroke-width="1" fill="none" stroke-opacity="0.8"/>
<path d="M65 156.5V189.5" stroke="#465224" stroke-width="1.6" fill="none" stroke-opacity="1.0"/>
<path d="M61 156.5H70M61 189.5H70" stroke="#465224" stroke-width="1" fill="none" stroke-opacity="0.75"/>
<path d="M84 156.5V189.5" stroke="#465224" stroke-width="1.6" fill="none" stroke-opacity="1.0"/>
<path d="M80 156.5H89M80 189.5H89" stroke="#465224" stroke-width="1" fill="none" stroke-opacity="0.75"/>
<path d="M103 156.5V188.5" stroke="#465224" stroke-width="1.6" fill="none" stroke-opacity="1.0"/>
<path d="M99 156.5H108M99 188.5H108" stroke="#465224" stroke-width="1" fill="none" stroke-opacity="0.75"/>
<path d="M122 187.5V259.5" stroke="#465224" stroke-width="1.6" fill="none" stroke-opacity="1.0"/>
<path d="M118 187.5H127M118 259.5H127" stroke="#465224" stroke-width="1" fill="none" stroke-opacity="0.75"/>
<path d="M141 156.5V188.5" stroke="#465224" stroke-width="1.6" fill="none" stroke-opacity="1.0"/>
<path d="M137 156.5H146M137 188.5H146" stroke="#465224" stroke-width="1" fill="none" stroke-opacity="0.75"/>
<path d="M160 156.5V189.5" stroke="#465224" stroke-width="1.6" fill="none" stroke-opacity="1.0"/>
<path d="M156 156.5H165M156 189.5H165" stroke="#465224" stroke-width="1" fill="none" stroke-opacity="0.75"/>
<path d="M179 156.5V189.5" stroke="#465224" stroke-width="1.6" fill="none" stroke-opacity="1.0"/>
<path d="M175 156.5H184M175 189.5H184" stroke="#465224" stroke-width="1" fill="none" stroke-opacity="0.75"/>
<path d="M198 156.5V188.5" stroke="#465224" stroke-width="1.6" fill="none" stroke-opacity="1.0"/>
<path d="M194 156.5H203M194 188.5H203" stroke="#465224" stroke-width="1" fill="none" stroke-opacity="0.75"/>
<path d="M217 156.5V188.5" stroke="#465224" stroke-width="1.6" fill="none" stroke-opacity="1.0"/>
<path d="M213 156.5H222M213 188.5H222" stroke="#465224" stroke-width="1" fill="none" stroke-opacity="0.75"/>
<path d="M236 156.5V188.5" stroke="#465224" stroke-width="1.6" fill="none" stroke-opacity="1.0"/>
<path d="M232 156.5H241M232 188.5H241" stroke="#465224" stroke-width="1" fill="none" stroke-opacity="0.75"/>
<path d="M255 159.5V189.5" stroke="#465224" stroke-width="1.6" fill="none" stroke-opacity="1.0"/>
<path d="M251 159.5H260M251 189.5H260" stroke="#465224" stroke-width="1" fill="none" stroke-opacity="0.75"/>
<path d="M273 156.5V188.5" stroke="#465224" stroke-width="1.6" fill="none" stroke-opacity="1.0"/>
<path d="M269 156.5H278M269 188.5H278" stroke="#465224" stroke-width="1" fill="none" stroke-opacity="0.75"/>
<path d="M292 156.5V189.5" stroke="#465224" stroke-width="1.6" fill="none" stroke-opacity="1.0"/>
<path d="M288 156.5H297M288 189.5H297" stroke="#465224" stroke-width="1" fill="none" stroke-opacity="0.75"/>
<path d="M311 162.5V191.5" stroke="#465224" stroke-width="1.6" fill="none" stroke-opacity="1.0"/>
<path d="M307 162.5H316M307 191.5H316" stroke="#465224" stroke-width="1" fill="none" stroke-opacity="0.75"/>
<path d="M330 156.5V188.5" stroke="#465224" stroke-width="1.6" fill="none" stroke-opacity="1.0"/>
<path d="M326 156.5H335M326 188.5H335" stroke="#465224" stroke-width="1" fill="none" stroke-opacity="0.75"/>
<path d="M349 157.5V189.5" stroke="#465224" stroke-width="1.6" fill="none" stroke-opacity="1.0"/>
<path d="M345 157.5H354M345 189.5H354" stroke="#465224" stroke-width="1" fill="none" stroke-opacity="0.75"/>
<path d="M368 165.5V193.5" stroke="#465224" stroke-width="1.6" fill="none" stroke-opacity="1.0"/>
<path d="M364 165.5H373M364 193.5H373" stroke="#465224" stroke-width="1" fill="none" stroke-opacity="0.75"/>
<path d="M387 156.5V189.5" stroke="#465224" stroke-width="1.6" fill="none" stroke-opacity="1.0"/>
<path d="M383 156.5H392M383 189.5H392" stroke="#465224" stroke-width="1" fill="none" stroke-opacity="0.75"/>
<path d="M406 160.5V191.5" stroke="#465224" stroke-width="1.6" fill="none" stroke-opacity="1.0"/>
<path d="M402 160.5H411M402 191.5H411" stroke="#465224" stroke-width="1" fill="none" stroke-opacity="0.75"/>
<path d="M425 182.5V208.5" stroke="#465224" stroke-width="1.6" fill="none" stroke-opacity="1.0"/>
<path d="M421 182.5H430M421 208.5H430" stroke="#465224" stroke-width="1" fill="none" stroke-opacity="0.75"/>
<path d="M444 160.5V194.5" stroke="#465224" stroke-width="1.6" fill="none" stroke-opacity="1.0"/>
<path d="M440 160.5H449M440 194.5H449" stroke="#465224" stroke-width="1" fill="none" stroke-opacity="0.75"/>
<path d="M520 156.5V188.5" stroke="#465224" stroke-width="1.6" fill="none" stroke-opacity="1.0"/>
<path d="M516 156.5H525M516 188.5H525" stroke="#465224" stroke-width="1" fill="none" stroke-opacity="0.75"/>
<path d="M539 155.5V190.5" stroke="#465224" stroke-width="1.6" fill="none" stroke-opacity="1.0"/>
<path d="M535 155.5H544M535 190.5H544" stroke="#465224" stroke-width="1" fill="none" stroke-opacity="0.75"/>
<path d="M558 163.5V191.5" stroke="#465224" stroke-width="1.6" fill="none" stroke-opacity="1.0"/>
<path d="M554 163.5H563M554 191.5H563" stroke="#465224" stroke-width="1" fill="none" stroke-opacity="0.75"/>
<path d="M577 157.5V190.5" stroke="#465224" stroke-width="1.6" fill="none" stroke-opacity="1.0"/>
<path d="M573 157.5H582M573 190.5H582" stroke="#465224" stroke-width="1" fill="none" stroke-opacity="0.75"/>
<path d="M595 156.5V188.5" stroke="#465224" stroke-width="1.6" fill="none" stroke-opacity="1.0"/>
<path d="M591 156.5H600M591 188.5H600" stroke="#465224" stroke-width="1" fill="none" stroke-opacity="0.75"/>
<path d="M614 174.5V203.5" stroke="#465224" stroke-width="1.6" fill="none" stroke-opacity="1.0"/>
<path d="M610 174.5H619M610 203.5H619" stroke="#465224" stroke-width="1" fill="none" stroke-opacity="0.75"/>
<path d="M633 175.5V205.5" stroke="#465224" stroke-width="1.6" fill="none" stroke-opacity="1.0"/>
<path d="M629 175.5H638M629 205.5H638" stroke="#465224" stroke-width="1" fill="none" stroke-opacity="0.75"/>
<path d="M652 178.5V205.5" stroke="#465224" stroke-width="1.6" fill="none" stroke-opacity="1.0"/>
<path d="M648 178.5H657M648 205.5H657" stroke="#465224" stroke-width="1" fill="none" stroke-opacity="0.75"/>
<path d="M671 176.5V204.5" stroke="#465224" stroke-width="1.6" fill="none" stroke-opacity="1.0"/>
<path d="M667 176.5H676M667 204.5H676" stroke="#465224" stroke-width="1" fill="none" stroke-opacity="0.75"/>
<path d="M690 174.5V203.5" stroke="#465224" stroke-width="1.6" fill="none" stroke-opacity="1.0"/>
<path d="M686 174.5H695M686 203.5H695" stroke="#465224" stroke-width="1" fill="none" stroke-opacity="0.75"/>
<path d="M709 163.5V191.5" stroke="#465224" stroke-width="1.6" fill="none" stroke-opacity="1.0"/>
<path d="M705 163.5H714M705 191.5H714" stroke="#465224" stroke-width="1" fill="none" stroke-opacity="0.75"/>
<path d="M728 164.5V194.5" stroke="#465224" stroke-width="1.6" fill="none" stroke-opacity="1.0"/>
<path d="M724 164.5H733M724 194.5H733" stroke="#465224" stroke-width="1" fill="none" stroke-opacity="0.75"/>
<path d="M747 163.5V191.5" stroke="#465224" stroke-width="1.6" fill="none" stroke-opacity="1.0"/>
<path d="M743 163.5H752M743 191.5H752" stroke="#465224" stroke-width="1" fill="none" stroke-opacity="0.75"/>
<path d="M766 167.5V194.5" stroke="#465224" stroke-width="1.6" fill="none" stroke-opacity="1.0"/>
<path d="M762 167.5H771M762 194.5H771" stroke="#465224" stroke-width="1" fill="none" stroke-opacity="0.75"/>
<path d="M785 165.5V193.5" stroke="#465224" stroke-width="1.6" fill="none" stroke-opacity="1.0"/>
<path d="M781 165.5H790M781 193.5H790" stroke="#465224" stroke-width="1" fill="none" stroke-opacity="0.75"/>
<path d="M804 156.5V189.5" stroke="#465224" stroke-width="1.6" fill="none" stroke-opacity="1.0"/>
<path d="M800 156.5H809M800 189.5H809" stroke="#465224" stroke-width="1" fill="none" stroke-opacity="0.75"/>
<path d="M823 234.5V243.5" stroke="#465224" stroke-width="1.6" fill="none" stroke-opacity="1.0"/>
<path d="M819 234.5H828M819 243.5H828" stroke="#465224" stroke-width="1" fill="none" stroke-opacity="0.75"/>
<path d="M842 193.5V214.5" stroke="#465224" stroke-width="1.6" fill="none" stroke-opacity="1.0"/>
<path d="M838 193.5H847M838 214.5H847" stroke="#465224" stroke-width="1" fill="none" stroke-opacity="0.75"/>
<path d="M861 173.5V204.5" stroke="#465224" stroke-width="1.6" fill="none" stroke-opacity="1.0"/>
<path d="M857 173.5H866M857 204.5H866" stroke="#465224" stroke-width="1" fill="none" stroke-opacity="0.75"/>
</g>
<path d="M65.5 35.5v6M65.5 435.5v-6M84.5 35.5v6M84.5 435.5v-6M103.5 35.5v6M103.5 435.5v-6M122.5 35.5v6M122.5 435.5v-6M141.5 35.5v6M141.5 435.5v-6M160.5 35.5v6M160.5 435.5v-6M179.5 35.5v6M179.5 435.5v-6M198.5 35.5v6M198.5 435.5v-6M217.5 35.5v6M217.5 435.5v-6M236.5 35.5v6M236.5 435.5v-6M255.5 35.5v6M255.5 435.5v-6M273.5 35.5v6M273.5 435.5v-6M292.5 35.5v6M292.5 435.5v-6M311.5 35.5v6M311.5 435.5v-6M330.5 35.5v6M330.5 435.5v-6M349.5 35.5v6M349.5 435.5v-6M368.5 35.5v6M368.5 435.5v-6M387.5 35.5v6M387.5 435.5v-6M406.5 35.5v6M406.5 435.5v-6M425.5 35.5v6M425.5 435.5v-6M444.5 35.5v6M444.5 435.5v-6M463.5 35.5v6M463.5 435.5v-6M482.5 35.5v6M482.5 435.5v-6M501.5 35.5v6M501.5 435.5v-6M520.5 35.5v6M520.5 435.5v-6M539.5 35.5v6M539.5 435.5v-6M558.5 35.5v6M558.5 435.5v-6M577.5 35.5v6M577.5 435.5v-6M595.5 35.5v6M595.5 435.5v-6M614.5 35.5v6M614.5 435.5v-6M633.5 35.5v6M633.5 435.5v-6M652.5 35.5v6M652.5 435.5v-6M671.5 35.5v6M671.5 435.5v-6M690.5 35.5v6M690.5 435.5v-6M709.5 35.5v6M709.5 435.5v-6M728.5 35.5v6M728.5 435.5v-6M747.5 35.5v6M747.5 435.5v-6M766.5 35.5v6M766.5 435.5v-6M785.5 35.5v6M785.5 435.5v-6M804.5 35.5v6M804.5 435.5v-6M823.5 35.5v6M823.5 435.5v-6M842.5 35.5v6M842.5 435.5v-6M861.5 35.5v6M861.5 435.5v-6M57.5 435.5h6M910.5 435.5h-6M57.5 355.5h6M910.5 355.5h-6M57.5 275.5h6M910.5 275.5h-6M57.5 195.5h6M910.5 195.5h-6M57.5 115.5h6M910.5 115.5h-6M57.5 35.5h6M910.5 35.5h-6" stroke="#000" stroke-width="1" stroke-opacity="0.75" fill="none"/>
<rect x="57.5" y="35.5" width="853" height="400" fill="none" stroke="#000" stroke-width="1.39"/>
<rect x="391.5" y="372.5" width="511.2" height="54.4" fill="#fff" stroke="#000" stroke-width="1.39"/>
<text y="392" font-size="17.4"><tspan x="595.36" textLength="57.2" lengthAdjust="spacingAndGlyphs">Stacked</tspan> <tspan x="659.3" textLength="34.48" lengthAdjust="spacingAndGlyphs">bars</tspan></text>
<rect x="397.5" y="405.5" width="34" height="12" fill="#EC9750" stroke="#753A0A" stroke-width="1"/>
<text x="444.04" y="416.7" font-size="17.4" textLength="55.07" lengthAdjust="spacingAndGlyphs">supneg</text>
<rect x="532.5" y="405.5" width="33" height="12" fill="#F1B989" stroke="#753A0A" stroke-width="1"/>
<text x="578.23" y="416.7" font-size="17.4" textLength="51.83" lengthAdjust="spacingAndGlyphs">preneg</text>
<rect x="665.5" y="405.5" width="33" height="12" fill="#CED6AE" stroke="#4F5B28" stroke-width="1"/>
<text x="711.13" y="416.7" font-size="17.4" textLength="50.76" lengthAdjust="spacingAndGlyphs">prepos</text>
<rect x="795.5" y="405.5" width="34" height="12" fill="#B3C282" stroke="#4F5B28" stroke-width="1"/>
<text x="841.94" y="416.7" font-size="17.4" textLength="54" lengthAdjust="spacingAndGlyphs">suppos</text>
<text class="t" y="23.9" font-size="21"><tspan x="117.06" textLength="102.56" lengthAdjust="spacingAndGlyphs">Predictions</tspan> <tspan x="226.28" textLength="90.81" lengthAdjust="spacingAndGlyphs">supported</tspan> <tspan x="324.15" textLength="34.23" lengthAdjust="spacingAndGlyphs">and</tspan> <tspan x="364.33" textLength="90.73" lengthAdjust="spacingAndGlyphs">prevented</tspan> <tspan x="462.1" textLength="25.1" lengthAdjust="spacingAndGlyphs">by</tspan> <tspan x="490.9" textLength="90.21" lengthAdjust="spacingAndGlyphs">validators</tspan> <tspan x="588" textLength="113.44" lengthAdjust="spacingAndGlyphs">(randomized</tspan> <tspan x="707.46" textLength="54.4" lengthAdjust="spacingAndGlyphs">order,</tspan> <tspan x="765.92" textLength="85.41" lengthAdjust="spacingAndGlyphs">mr/br/dt)</tspan></text>
<text transform="translate(21.4 0) rotate(-90)" font-size="17.8"><tspan x="-405.93" textLength="40.48" lengthAdjust="spacingAndGlyphs">Ratio</tspan> <tspan x="-360.01" textLength="47.81" lengthAdjust="spacingAndGlyphs">(mean</tspan> <tspan x="-307.44" textLength="27.64" lengthAdjust="spacingAndGlyphs">and</tspan> <tspan x="-273.79" textLength="45.87" lengthAdjust="spacingAndGlyphs">STDV</tspan> <tspan x="-222.52" textLength="12.36" lengthAdjust="spacingAndGlyphs">of</tspan> <tspan x="-204.76" textLength="18.1" lengthAdjust="spacingAndGlyphs">20</tspan> <tspan x="-181.67" textLength="57.85" lengthAdjust="spacingAndGlyphs">random</tspan> <tspan x="-118.45" textLength="55.01" lengthAdjust="spacingAndGlyphs">orders)</tspan></text>
<text class="n" x="30.81" y="439" font-size="17.7" textLength="21.48" lengthAdjust="spacingAndGlyphs">0.0</text>
<text class="n" x="30.81" y="359" font-size="17.7" textLength="21.74" lengthAdjust="spacingAndGlyphs">0.2</text>
<text class="n" x="30.83" y="279" font-size="17.7" textLength="20.98" lengthAdjust="spacingAndGlyphs">0.4</text>
<text class="n" x="30.82" y="199" font-size="17.7" textLength="21.23" lengthAdjust="spacingAndGlyphs">0.6</text>
<text class="n" x="30.81" y="119" font-size="17.7" textLength="21.48" lengthAdjust="spacingAndGlyphs">0.8</text>
<text class="n" x="29.77" y="39" font-size="17.7" textLength="22.55" lengthAdjust="spacingAndGlyphs">1.0</text>
<text transform="translate(69.14 0) rotate(-90)" x="-481.12" font-size="17.6" textLength="40.33" lengthAdjust="spacingAndGlyphs">cmdp</text>
<text transform="translate(88.08 0) rotate(-90)" x="-473.91" font-size="17.6" textLength="33.02" lengthAdjust="spacingAndGlyphs">csdp</text>
<text transform="translate(107.02 0) rotate(-90)" x="-475" font-size="17.6" textLength="34.31" lengthAdjust="spacingAndGlyphs">cxdp</text>
<text transform="translate(125.97 0) rotate(-90)" x="-500.01" font-size="17.6" textLength="58.51" lengthAdjust="spacingAndGlyphs">dynconf</text>
<text transform="translate(144.91 0) rotate(-90)" x="-513.9" font-size="17.6" textLength="72.43" lengthAdjust="spacingAndGlyphs">hierarchy</text>
<text transform="translate(163.86 0) rotate(-90)" x="-479.17" font-size="17.6" textLength="38.48" lengthAdjust="spacingAndGlyphs">imdp</text>
<text transform="translate(182.8 0) rotate(-90)" x="-472.17" font-size="17.6" textLength="31.4" lengthAdjust="spacingAndGlyphs">isdp</text>
<text transform="translate(201.74 0) rotate(-90)" x="-473.26" font-size="17.6" textLength="32.41" lengthAdjust="spacingAndGlyphs">ixdp</text>
<text transform="translate(222.3 0) rotate(-90)" x="-500.85" font-size="17.6" textLength="59.34" lengthAdjust="spacingAndGlyphs">minconf</text>
<text transform="translate(239.06 0) rotate(-90)" x="-475.45" font-size="17.6" textLength="34.51" lengthAdjust="spacingAndGlyphs">none</text>
<text transform="translate(259.78 0) rotate(-90)" x="-490.21" font-size="17.6" textLength="49.44" lengthAdjust="spacingAndGlyphs">om100</text>
<text transform="translate(278.72 0) rotate(-90)" x="-481.1" font-size="17.6" textLength="40.28" lengthAdjust="spacingAndGlyphs">om50</text>
<text transform="translate(297.66 0) rotate(-90)" x="-481.1" font-size="17.6" textLength="40.28" lengthAdjust="spacingAndGlyphs">om75</text>
<text transform="translate(316.61 0) rotate(-90)" x="-499.11" font-size="17.6" textLength="58.39" lengthAdjust="spacingAndGlyphs">omx100</text>
<text transform="translate(335.55 0) rotate(-90)" x="-489.8" font-size="17.6" textLength="49.03" lengthAdjust="spacingAndGlyphs">omx50</text>
<text transform="translate(354.5 0) rotate(-90)" x="-489.8" font-size="17.6" textLength="49.03" lengthAdjust="spacingAndGlyphs">omx75</text>
<text transform="translate(373.44 0) rotate(-90)" x="-506.5" font-size="17.6" textLength="65.59" lengthAdjust="spacingAndGlyphs">omxc100</text>
<text transform="translate(392.38 0) rotate(-90)" x="-497" font-size="17.6" textLength="56.28" lengthAdjust="spacingAndGlyphs">omxc50</text>
<text transform="translate(411.33 0) rotate(-90)" x="-497" font-size="17.6" textLength="56.28" lengthAdjust="spacingAndGlyphs">omxc75</text>
<text transform="translate(428.65 0) rotate(-90)" x="-471.05" font-size="17.6" textLength="30.73" lengthAdjust="spacingAndGlyphs">pw1</text>
<text transform="translate(447.6 0) rotate(-90)" x="-471.05" font-size="17.6" textLength="30.47" lengthAdjust="spacingAndGlyphs">pw2</text>
<text transform="translate(466.54 0) rotate(-90)" x="-488.06" font-size="17.6" textLength="47.15" lengthAdjust="spacingAndGlyphs">pwr25</text>
<text transform="translate(485.49 0) rotate(-90)" x="-488.06" font-size="17.6" textLength="47.15" lengthAdjust="spacingAndGlyphs">pwr50</text>
<text transform="translate(504.43 0) rotate(-90)" x="-488.06" font-size="17.6" textLength="47.15" lengthAdjust="spacingAndGlyphs">pwr75</text>
<text transform="translate(524.99 0) rotate(-90)" x="-465.3" font-size="17.6" textLength="24.78" lengthAdjust="spacingAndGlyphs">uc1</text>
<text transform="translate(542.74 0) rotate(-90)" x="-527.4" font-size="17.6" textLength="86.72" lengthAdjust="spacingAndGlyphs">uc1 + omdp</text>
<text transform="translate(562.19 0) rotate(-90)" x="-544.1" font-size="17.6" textLength="103.25" lengthAdjust="spacingAndGlyphs">uc1 + omx100</text>
<text transform="translate(581.13 0) rotate(-90)" x="-535" font-size="17.6" textLength="94.11" lengthAdjust="spacingAndGlyphs">uc1 + omx75</text>
<text transform="translate(599.57 0) rotate(-90)" x="-521.3" font-size="17.6" textLength="80.47" lengthAdjust="spacingAndGlyphs">uc1 + oxdp</text>
<text transform="translate(619.71 0) rotate(-90)" x="-465.3" font-size="17.6" textLength="24.78" lengthAdjust="spacingAndGlyphs">uc2</text>
<text transform="translate(637.46 0) rotate(-90)" x="-527.4" font-size="17.6" textLength="86.72" lengthAdjust="spacingAndGlyphs">uc2 + omdp</text>
<text transform="translate(656.91 0) rotate(-90)" x="-544.1" font-size="17.6" textLength="103.25" lengthAdjust="spacingAndGlyphs">uc2 + omx100</text>
<text transform="translate(675.85 0) rotate(-90)" x="-535" font-size="17.6" textLength="94.11" lengthAdjust="spacingAndGlyphs">uc2 + omx75</text>
<text transform="translate(694.29 0) rotate(-90)" x="-521.3" font-size="17.6" textLength="80.47" lengthAdjust="spacingAndGlyphs">uc2 + oxdp</text>
<text transform="translate(712.66 0) rotate(-90)" x="-471.2" font-size="17.6" textLength="29.85" lengthAdjust="spacingAndGlyphs">ucm</text>
<text transform="translate(732.18 0) rotate(-90)" x="-529.5" font-size="17.6" textLength="88.82" lengthAdjust="spacingAndGlyphs">ucm + imdp</text>
<text transform="translate(751.12 0) rotate(-90)" x="-523.4" font-size="17.6" textLength="82.56" lengthAdjust="spacingAndGlyphs">ucm + ixdp</text>
<text transform="translate(770.57 0) rotate(-90)" x="-550.2" font-size="17.6" textLength="109.51" lengthAdjust="spacingAndGlyphs">ucm + omx100</text>
<text transform="translate(789.52 0) rotate(-90)" x="-541.1" font-size="17.6" textLength="100.36" lengthAdjust="spacingAndGlyphs">ucm + omx75</text>
<text transform="translate(807.38 0) rotate(-90)" x="-464.3" font-size="17.6" textLength="23.35" lengthAdjust="spacingAndGlyphs">ucs</text>
<text transform="translate(828.51 0) rotate(-90)" x="-484.9" font-size="17.6" textLength="44.09" lengthAdjust="spacingAndGlyphs">udr25</text>
<text transform="translate(847.46 0) rotate(-90)" x="-484.9" font-size="17.6" textLength="44.09" lengthAdjust="spacingAndGlyphs">udr50</text>
<text transform="translate(866.4 0) rotate(-90)" x="-484.9" font-size="17.6" textLength="44.09" lengthAdjust="spacingAndGlyphs">udr75</text>
</svg></body></html>
